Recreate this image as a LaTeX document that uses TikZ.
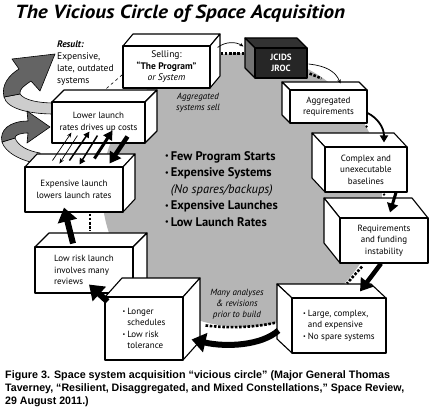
\documentclass[tikz,border=0pt]{standalone}
\usepackage{fontspec}
\setmainfont{PT Sans}
\newfontfamily\capfont{Liberation Sans}
\usepackage{graphicx}
\usetikzlibrary{arrows.meta,calc}
\definecolor{circgray}{RGB}{181,181,181}
\definecolor{ribdark}{RGB}{100,100,100}
\definecolor{riblight}{RGB}{205,205,205}
\definecolor{jfront}{RGB}{38,38,38}
\definecolor{jtop}{RGB}{50,50,50}
\definecolor{jside}{RGB}{115,115,115}
\newcommand{\bl}{{\fontsize{6}{6}\selectfont\raisebox{1pt}{•}}\hspace{2pt}}
\newcommand{\bli}{\phantom{\bl}}
\newcommand{\cbul}{{\fontsize{8}{8}\selectfont\raisebox{1.5pt}{•}}\hspace{2pt}}
\newcommand{\cubeR}[9]{%
  \filldraw[face] (#2,#3) -- (#2+#6,#3+#7) -- (#4+#6,#3+#7) -- (#4,#3) -- cycle;
  \filldraw[face] (#4,#3) -- (#4+#6,#3+#7) -- (#4+#6,#5+#7) -- (#4,#5) -- cycle;
  \node[front, minimum width={(#4-#2)*1pt}, minimum height={(#5-#3)*1pt}, #8] (#1) at ({(#2+#4)/2},{(#3+#5)/2}) {#9};}
\newcommand{\cubeL}[9]{%
  \filldraw[face] (#2,#3) -- (#2+#6,#3+#7) -- (#4+#6,#3+#7) -- (#4,#3) -- cycle;
  \filldraw[face] (#2,#3) -- (#2+#6,#3+#7) -- (#2+#6,#5+#7) -- (#2,#5) -- cycle;
  \node[front, minimum width={(#4-#2)*1pt}, minimum height={(#5-#3)*1pt}, #8] (#1) at ({(#2+#4)/2},{(#3+#5)/2}) {#9};}
\begin{document}
\begin{tikzpicture}[x=1pt,y=-1pt,line join=round,
  face/.style={draw=black, fill=white, line width=1.1pt},
  front/.style={draw=black, fill=white, line width=1.1pt, inner sep=1pt, align=center, font=\fontsize{9}{11.5}\selectfont},
  ribbon/.style={draw=black, line width=0.6pt},
  dots/.style={line width=2.6pt, dash pattern=on 2.6pt off 1.6pt},
  thinarr/.style={line width=0.7pt, -{Stealth[length=4pt,width=3.5pt]}},
  medarr/.style={line width=1.8pt, -{Triangle[length=7pt,width=8pt]}},
  fatarr/.style={line width=3pt, -{Triangle[length=9pt,width=11pt]}},
  hugearr/.style={line width=4.5pt, -{Triangle[length=12pt,width=15pt]}},
  bigarr/.style={line width=6pt, -{Triangle[length=14pt,width=19pt]}},
  lbl/.style={inner sep=0pt, font=\fontsize{9}{11}\selectfont\itshape, align=center},
  captext/.style={anchor=base west, inner sep=0pt, font=\capfont\bfseries\fontsize{10.8}{13}\selectfont}]
\useasboundingbox (0,0) rectangle (432,412);
\fill[white] (0,0) rectangle (432,412);

% title
\node[anchor=base west, inner sep=0pt, font=\fontsize{19}{22}\selectfont\bfseries\itshape] (title) at (15,19)
  {\resizebox{330pt}{\height}{The Vicious Circle of Space Acquisition}};

% gray circle
\fill[circgray] (242,190) ellipse [x radius=140, y radius=137];

% gray ribbons
\filldraw[ribbon, fill=riblight] (54,114) .. controls (30,114) and (7,109) .. (4,97) -- (20,94) .. controls (24,100) and (38,103) .. (54,103) -- cycle;
\filldraw[ribbon, fill=ribdark] (4,97) .. controls (1,85) and (9,75) .. (19,69) -- (12,59) -- (55,54) -- (40,91) -- (31,81) .. controls (24,86) and (19,89) .. (20,94) -- cycle;
\filldraw[ribbon, fill=riblight] (40,164) .. controls (20,161) and (5,152) .. (2,142) -- (15,138) .. controls (18,146) and (28,151) .. (40,153) -- cycle;
\filldraw[ribbon, fill=ribdark] (2,142) .. controls (-1,130) and (10,121) .. (28,121) -- (27,111) -- (50,127) -- (27,143) -- (28,133) .. controls (20,133) and (15,135) .. (15,138) -- cycle;

% boxes
\cubeR{sell}{123}{46}{210}{88}{10}{-12}{font=\fontsize{9.5}{11.5}\selectfont}{Selling:\\\textbf{“The Program”}\\\textit{or System}}
% JCIDS (dark box)
\filldraw[draw=black, line width=1.1pt, fill=jtop] (255,48) -- (245,38) -- (297,38) -- (307,48) -- cycle;
\filldraw[draw=black, line width=1.1pt, fill=jside] (255,48) -- (245,38) -- (245,68) -- (255,78) -- cycle;
\node[front, fill=jfront, text=white, font=\fontsize{9}{11.5}\selectfont\bfseries, minimum width=52pt, minimum height=30pt] (jcids) at (281,63) {JCIDS\\JROC};
\cubeL{aggr}{290}{90}{367}{123}{-8}{-8}{}{Aggregated\\requirements}
\cubeL{complex}{325}{147}{407}{192}{-13}{-14}{}{Complex and\\unexecutable\\baselines}
\cubeL{reqf}{340}{218}{428}{263}{-16}{-20}{}{Requirements\\and funding\\instability}
\cubeL{large}{292}{298}{386}{353}{-15}{-14}{align=left}{\bl Large, complex,\\\bli and expensive\\\bl No spare systems}
\cubeR{lowrisk}{35}{247}{133}{293}{14}{-14}{align=left}{Low risk launch\\involves many\\reviews}
\cubeR{longer}{105}{297}{183}{360}{17}{-19}{align=left}{\bl Longer\\\bli schedules\\\bl Low risk\\\bli tolerance}
\cubeR{explaunch}{25}{167}{123}{212}{12}{-13}{}{Expensive launch\\lowers launch rates}
\cubeR{lowerlaunch}{52}{102}{145}{143}{12}{-12}{}{Lower launch\\rates drives up costs}

% texts
\node[anchor=north west, inner sep=0pt, align=left, font=\fontsize{9.5}{12}\selectfont] (result) at (57,41)
  {\textbf{\textit{Result:}}\\Expensive,\\late, outdated\\systems};
\node[lbl] (aggsell) at (198,103) {Aggregated\\systems sell};
\node[lbl] (many) at (237,304) {Many analyses\\\& revisions\\prior to build};
\node[anchor=north west, inner sep=0pt, align=left, font=\fontsize{12.5}{16.5}\selectfont\bfseries] (center) at (165,151)
  {\cbul Few Program Starts\\
   \cbul Expensive Systems\\
   \phantom{\cbul}\mdseries\itshape(No spares/backups)\\
   \cbul Expensive Launches\\
   \cbul Low Launch Rates};

% connectors
\draw[thinarr] ($(sell.north east)+(7,2)$) .. controls +(8,-6) and +(-8,-5) .. ($(jcids.north west)+(-11,-1)$);
\draw[dots] ($(sell.north east)+(10,8)$) -- ($(jcids.north west)+(-10,6)$);
\draw[thinarr] ($(jcids.east)+(1,1)$) .. controls +(18,2) and +(-5,-12) .. ($(aggr.north)+(12,-6)$);
\draw[dots] ($(jcids.south east)+(2,-5)$) -- ($(aggr.north west)+(32,-11)$);
\draw[medarr] ($(aggr.east)+(0,6.5)$) .. controls +(10,5) and +(0,-15) .. ($(complex.north)+(18,-4)$);
\fill ($(aggr.south east)+(-1,3)$) circle (1.3);
\draw[fatarr] ($(complex.south)+(30,0)$) -- ($(reqf.north)+(6,-5)$);
\fill ($(complex.south)+(18,2)$) circle (1.3);
\draw[hugearr] ($(reqf.south)+(-3,0)$) -- ($(large.north)+(21,-6)$);
\draw[dots] ($(reqf.south)+(-22,3)$) -- ($(large.north)+(8,-14)$);
\draw[bigarr] ($(large.west)+(-13,5)$) .. controls +(-17,15) and +(35,8) .. ($(longer.east)+(8,11)$);
\draw[dots] ($(longer.north east)+(22,29)$) .. controls +(23,3) and +(-22,5) .. ($(large.west)+(-15,-3)$);
\draw[bigarr] ($(longer.north west)+(3,5)$) -- ($(lowrisk.south)+(5,-9)$);
\draw[bigarr] ($(lowrisk.north)+(-11,-3)$) -- ($(explaunch.south)+(-10,-5)$);
\draw[dots] ($(explaunch.south)+(16,1)$) -- ($(lowrisk.north)+(6,-15)$);
% up / down arrows between launch boxes
\draw[line width=0.7pt, -{Stealth[length=5pt,width=4pt]}] ($(lowerlaunch.south west)+(1,17)$) -- ($(lowerlaunch.south west)+(20,-11)$);
\draw[line width=0.7pt, -{Stealth[length=5pt,width=4pt]}] ($(lowerlaunch.south west)+(26,-8)$) -- ($(lowerlaunch.south west)+(8,20)$);
\draw[line width=1.5pt, -{Triangle[length=6pt,width=6pt]}] ($(lowerlaunch.south west)+(18,17)$) -- ($(lowerlaunch.south west)+(38,-12)$);
\draw[line width=1.5pt, -{Triangle[length=6pt,width=6pt]}] ($(lowerlaunch.south west)+(46,-8)$) -- ($(lowerlaunch.south west)+(28,21)$);
\draw[line width=3pt, -{Triangle[length=9pt,width=10pt]}] ($(lowerlaunch.south west)+(43,15)$) -- ($(lowerlaunch.south west)+(61,-13)$);
\draw[line width=4.5pt, -{Triangle[length=11pt,width=13pt]}] ($(lowerlaunch.south west)+(76,-7)$) -- ($(lowerlaunch.south west)+(58,20)$);
\draw[line width=0.6pt, dashed] ($(lowerlaunch.north west)+(55,-13)$) -- ($(sell.south west)+(0,-14)$);

% caption
\node[captext] (cap1) at (5,378)
  {\resizebox{385pt}{\height}{Figure 3. Space system acquisition “vicious circle” (Major General Thomas}};
\node[captext] (cap2) at (5,391)
  {\resizebox{399pt}{\height}{Taverney, “Resilient, Disaggregated, and Mixed Constellations,” Space Review,}};
\node[captext] (cap3) at (5,404)
  {\scalebox{0.98}[1]{29 August 2011.)}};
\end{tikzpicture}
\end{document}
